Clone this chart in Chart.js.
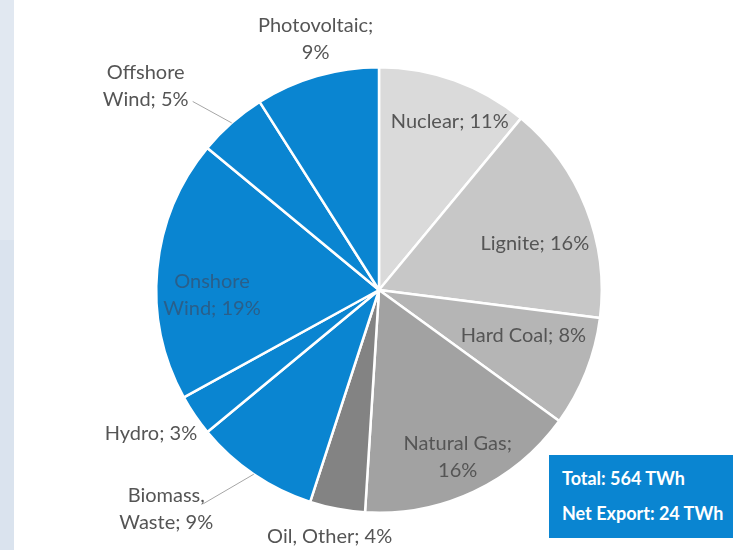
<!DOCTYPE html>
<html lang="en">
<head>
<meta charset="UTF-8" />
<title>Electricity mix</title>
<script src="https://cdn.jsdelivr.net/npm/chart.js"></script>
<style>
  html, body { margin: 0; padding: 0; background: #fff; }
  body { width: 735px; height: 550px; position: relative; overflow: hidden; font-family: Lato, sans-serif; }
  .strip-top { position: absolute; left: 0; top: 0; width: 14px; height: 240px; background: #e1e8f1; }
  .strip-bot { position: absolute; left: 0; top: 240px; width: 14px; height: 310px; background: #dae3ee; }
  #chart { position: absolute; left: 0; top: 0; }
  .total-box {
    position: absolute; left: 549px; top: 455px; width: 184px; height: 83px;
    background: #0a85d1; color: #fff; font-weight: bold; font-size: 18px;
    box-sizing: border-box; padding: 14px 0 0 13px;
  }
  .total-box div { line-height: 18px; margin-bottom: 17px; white-space: nowrap; }
</style>
</head>
<body>
  <div class="strip-top"></div>
  <div class="strip-bot"></div>
  <canvas id="chart" width="735" height="550"></canvas>
  <div class="total-box">
    <div>Total: 564 TWh</div>
    <div>Net Export: 24 TWh</div>
  </div>

<script>
  // data (percent of 564 TWh), clockwise from 12 o'clock
  const sources = ['Nuclear', 'Lignite', 'Hard Coal', 'Natural Gas', 'Oil, Other',
                   'Biomass, Waste', 'Hydro', 'Onshore Wind', 'Offshore Wind', 'Photovoltaic'];
  const shares = [11, 16, 8, 16, 4, 9, 3, 19, 5, 9];
  // label text as printed, one entry per line
  const labelLines = [
    ['Nuclear; 11%'], ['Lignite; 16%'], ['Hard Coal; 8%'], ['Natural Gas;', '16%'],
    ['Oil, Other; 4%'], ['Biomass,', 'Waste; 9%'], ['Hydro; 3%'], ['Onshore', 'Wind; 19%'],
    ['Offshore', 'Wind; 5%'], ['Photovoltaic;', '9%']
  ];

  const sliceColors = ['#dadada', '#c7c7c7', '#b5b5b5', '#a2a2a2', '#838383',
                       '#0a85d1', '#0a85d1', '#0a85d1', '#0a85d1', '#0a85d1'];

  // label placement: radius factor, angle shift (deg), leader line end offset from label
  const labelPlace = [
    { r: 0.82, da: 3 }, { r: 0.73, da: 5 }, { r: 0.68, da: -4 }, { r: 0.83, da: 0 },
    { r: 1.13, da: 0.5 }, { r: 1.37, da: 10, leader: [37, -5] }, { r: 1.21, da: 2 },
    { r: 0.75, da: -7, color: '#2a5f8a' }, { r: 1.39, da: -7.5, leader: [47, 15] }, { r: 1.16, da: 2 }
  ];

  const pieLabels = {
    id: 'pieLabels',
    afterDatasetsDraw(chart) {
      const ctx = chart.ctx;
      const arcs = chart.getDatasetMeta(0).data;
      ctx.save();
      ctx.font = '20px Lato, sans-serif';
      ctx.textAlign = 'center';
      ctx.textBaseline = 'middle';
      arcs.forEach((arc, i) => {
        const p = labelPlace[i];
        const mid = (arc.startAngle + arc.endAngle) / 2;
        const a = mid + p.da * Math.PI / 180;
        const R = arc.outerRadius;
        const x = arc.x + Math.cos(a) * R * p.r;
        const y = arc.y + Math.sin(a) * R * p.r;
        const lines = labelLines[i];
        const lh = 27;
        if (p.leader) {
          ctx.strokeStyle = '#a6a6a6';
          ctx.lineWidth = 1;
          ctx.beginPath();
          ctx.moveTo(arc.x + Math.cos(mid) * R, arc.y + Math.sin(mid) * R);
          ctx.lineTo(x + p.leader[0], y + p.leader[1]);
          ctx.stroke();
        }
        ctx.fillStyle = p.color || '#555555';
        lines.forEach((t, k) => {
          ctx.fillText(t, x, y + (k - (lines.length - 1) / 2) * lh);
        });
      });
      ctx.restore();
    }
  };

  new Chart(document.getElementById('chart'), {
    type: 'pie',
    data: {
      labels: sources,
      datasets: [{
        data: shares,
        backgroundColor: sliceColors,
        borderColor: '#ffffff',
        borderWidth: 2.5
      }]
    },
    options: {
      responsive: false,
      animation: false,
      layout: { padding: { left: 155, right: 132, top: 65, bottom: 35 } },
      plugins: {
        legend: { display: false },
        tooltip: { enabled: false }
      }
    },
    plugins: [pieLabels]
  });
</script>
</body>
</html>
